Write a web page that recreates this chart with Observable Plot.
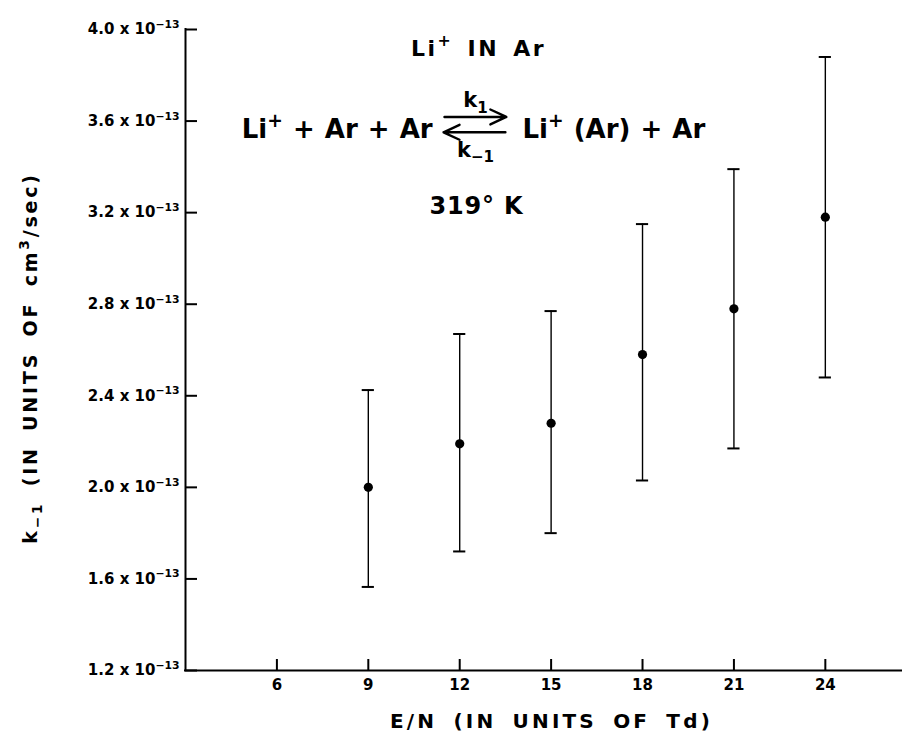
<!DOCTYPE html>
<html><head><meta charset="utf-8">
<script src="https://cdn.jsdelivr.net/npm/d3@7"></script>
<script src="https://cdn.jsdelivr.net/npm/@observablehq/plot@0.6"></script>
<style>body{margin:0;background:#fff} svg{display:block}</style>
</head><body><div id="chart"></div>
<script>
// Data (k values in units of 10^-13 cm^3/sec)
const enValues = [9, 12, 15, 18, 21, 24];
const kValues  = [2.00, 2.19, 2.28, 2.58, 2.78, 3.18];
const kLow     = [1.565, 1.72, 1.80, 2.03, 2.17, 2.48];
const kHigh    = [2.425, 2.67, 2.77, 3.15, 3.39, 3.88];

const xTicks = [6, 9, 12, 15, 18, 21, 24];
const yTicks = [1.2, 1.6, 2.0, 2.4, 2.8, 3.2, 3.6, 4.0];
const yTickLabels = ["1.2 x 10⁻¹³","1.6 x 10⁻¹³","2.0 x 10⁻¹³","2.4 x 10⁻¹³","2.8 x 10⁻¹³","3.2 x 10⁻¹³","3.6 x 10⁻¹³","4.0 x 10⁻¹³"];
const xDomain = [3, 26.5];
const yDomain = [1.2, 4.0];

const xLabel = "E/N (IN UNITS OF Td)";
const yLabel = "k₋₁ (IN UNITS OF cm³/sec)";

// Annotation texts (positions in data units)
const annTexts = [
  {text: "Li⁺ IN Ar", x: 12.62, y: 3.886, anchor: "middle", size: 22, ls: 2.5, ws: 4},
  {text: "Li⁺ + Ar + Ar", x: 11.11, y: 3.528, anchor: "end", size: 26, ls: 0, ws: 1},
  {text: "Li⁺ (Ar) + Ar", x: 14.06, y: 3.528, anchor: "start", size: 26, ls: 0, ws: 1},
  {text: "k₁", x: 12.52, y: 3.662, anchor: "middle", size: 21, ls: 0, ws: 0},
  {text: "k₋₁", x: 12.52, y: 3.445, anchor: "middle", size: 21, ls: 0, ws: 0},
  {text: "319° K", x: 12.55, y: 3.196, anchor: "middle", size: 24, ls: 0.8, ws: 0}
];
const arrows = [
  {x1: 11.50, x2: 13.53, y: 3.618},
  {x1: 13.50, x2: 11.47, y: 3.551}
];

const points = enValues.map((en, i) => ({en, k: kValues[i], lo: kLow[i], hi: kHigh[i]}));

const W = 909, H = 738, mL = 185, mR = 8, mT = 29, mB = 68;
const plotW = W - mL - mR, plotH = H - mT - mB;
const capHalf = 0.2;

const chart = Plot.plot({
  width: W, height: H,
  marginLeft: mL, marginRight: mR, marginTop: mT, marginBottom: mB,
  style: {fontFamily: "DejaVu Sans", background: "white", color: "black", overflow: "visible"},
  x: {domain: xDomain},
  y: {domain: yDomain},
  marks: [
    Plot.axisX(xTicks, {tickSize: 0, tickPadding: 9, fontSize: 15, fontWeight: "bold", label: null}),
    Plot.axisY(yTicks, {tickSize: 0, tickPadding: 6, fontSize: 15, fontWeight: "bold", label: null,
      tickFormat: d => yTickLabels[yTicks.indexOf(d)]}),
    Plot.ruleY(yTicks, {insetRight: plotW - 12, strokeWidth: 2}),
    Plot.ruleX(xTicks, {insetTop: plotH - 11, strokeWidth: 2}),
    Plot.ruleX([xDomain[0]], {strokeWidth: 2, strokeLinecap: "square"}),
    Plot.ruleY([yDomain[0]], {strokeWidth: 2, strokeLinecap: "square"}),
    // error bars
    Plot.ruleX(points, {x: "en", y1: "lo", y2: "hi", strokeWidth: 1.4}),
    Plot.ruleY(points, {y: "lo", x1: d => d.en - capHalf, x2: d => d.en + capHalf, strokeWidth: 2}),
    Plot.ruleY(points, {y: "hi", x1: d => d.en - capHalf, x2: d => d.en + capHalf, strokeWidth: 2}),
    Plot.dot(points, {x: "en", y: "k", r: 4.6, fill: "black", stroke: "none"}),
    // annotations
    Plot.text(annTexts, {x: "x", y: "y", text: "text", lineAnchor: "bottom", fontSize: d => d.size, fontWeight: "bold"}),
    Plot.arrow(arrows, {x1: "x1", x2: "x2", y1: "y", y2: "y", strokeWidth: 2.4, headLength: 11, headAngle: 50}),
    // axis titles
    Plot.text([xLabel], {frameAnchor: "bottom", textAnchor: "middle", dx: 8, dy: 57, fontSize: 20, fontWeight: "bold"}),
    Plot.text([yLabel], {frameAnchor: "left", textAnchor: "middle", dx: -155, dy: 8, rotate: -90, fontSize: 19, fontWeight: "bold"})
  ]
});

// rich text: turn unicode super/subscripts into raised/lowered tspans
const supMap = {"⁺": "+", "⁻": "−", "¹": "1", "³": "3"};
const subMap = {"₋": "−", "₁": "1"};
function fontSizeOf(el) {
  let n = el;
  while (n && n.getAttribute) {
    const f = n.getAttribute("font-size");
    if (f) return parseFloat(f);
    n = n.parentNode;
  }
  return 12;
}
function richify(el) {
  const s = el.textContent;
  const chars = [...s];
  if (!chars.some(c => supMap[c] || subMap[c])) return;
  const fs = fontSizeOf(el);
  const runs = [];
  for (const c of chars) {
    const type = supMap[c] ? "sup" : subMap[c] ? "sub" : "n";
    const ch = supMap[c] || subMap[c] || c;
    if (runs.length && runs[runs.length - 1].type === type) runs[runs.length - 1].str += ch;
    else runs.push({type, str: ch});
  }
  while (el.firstChild) el.removeChild(el.firstChild);
  let shift = 0;
  for (const r of runs) {
    const target = r.type === "sup" ? -0.42 * fs : r.type === "sub" ? 0.28 * fs : 0;
    const t = document.createElementNS("http://www.w3.org/2000/svg", "tspan");
    t.textContent = r.str;
    if (target - shift !== 0) t.setAttribute("dy", (target - shift).toFixed(2));
    if (r.type !== "n") t.setAttribute("font-size", (0.72 * fs).toFixed(1));
    shift = target;
    el.appendChild(t);
  }
}

const svg = d3.select(chart);
svg.selectAll("text").each(function() {
  const t = this.textContent;
  const a = annTexts.find(d => d.text === t);
  if (a) {
    d3.select(this).attr("text-anchor", a.anchor).attr("letter-spacing", a.ls).attr("word-spacing", a.ws);
  }
  if (t === xLabel) d3.select(this).attr("letter-spacing", 3.2).attr("word-spacing", 6);
  if (t === yLabel) d3.select(this).attr("letter-spacing", 2.8).attr("word-spacing", 6);
  richify(this);
});
document.getElementById("chart").append(chart);
</script>
</body></html>
